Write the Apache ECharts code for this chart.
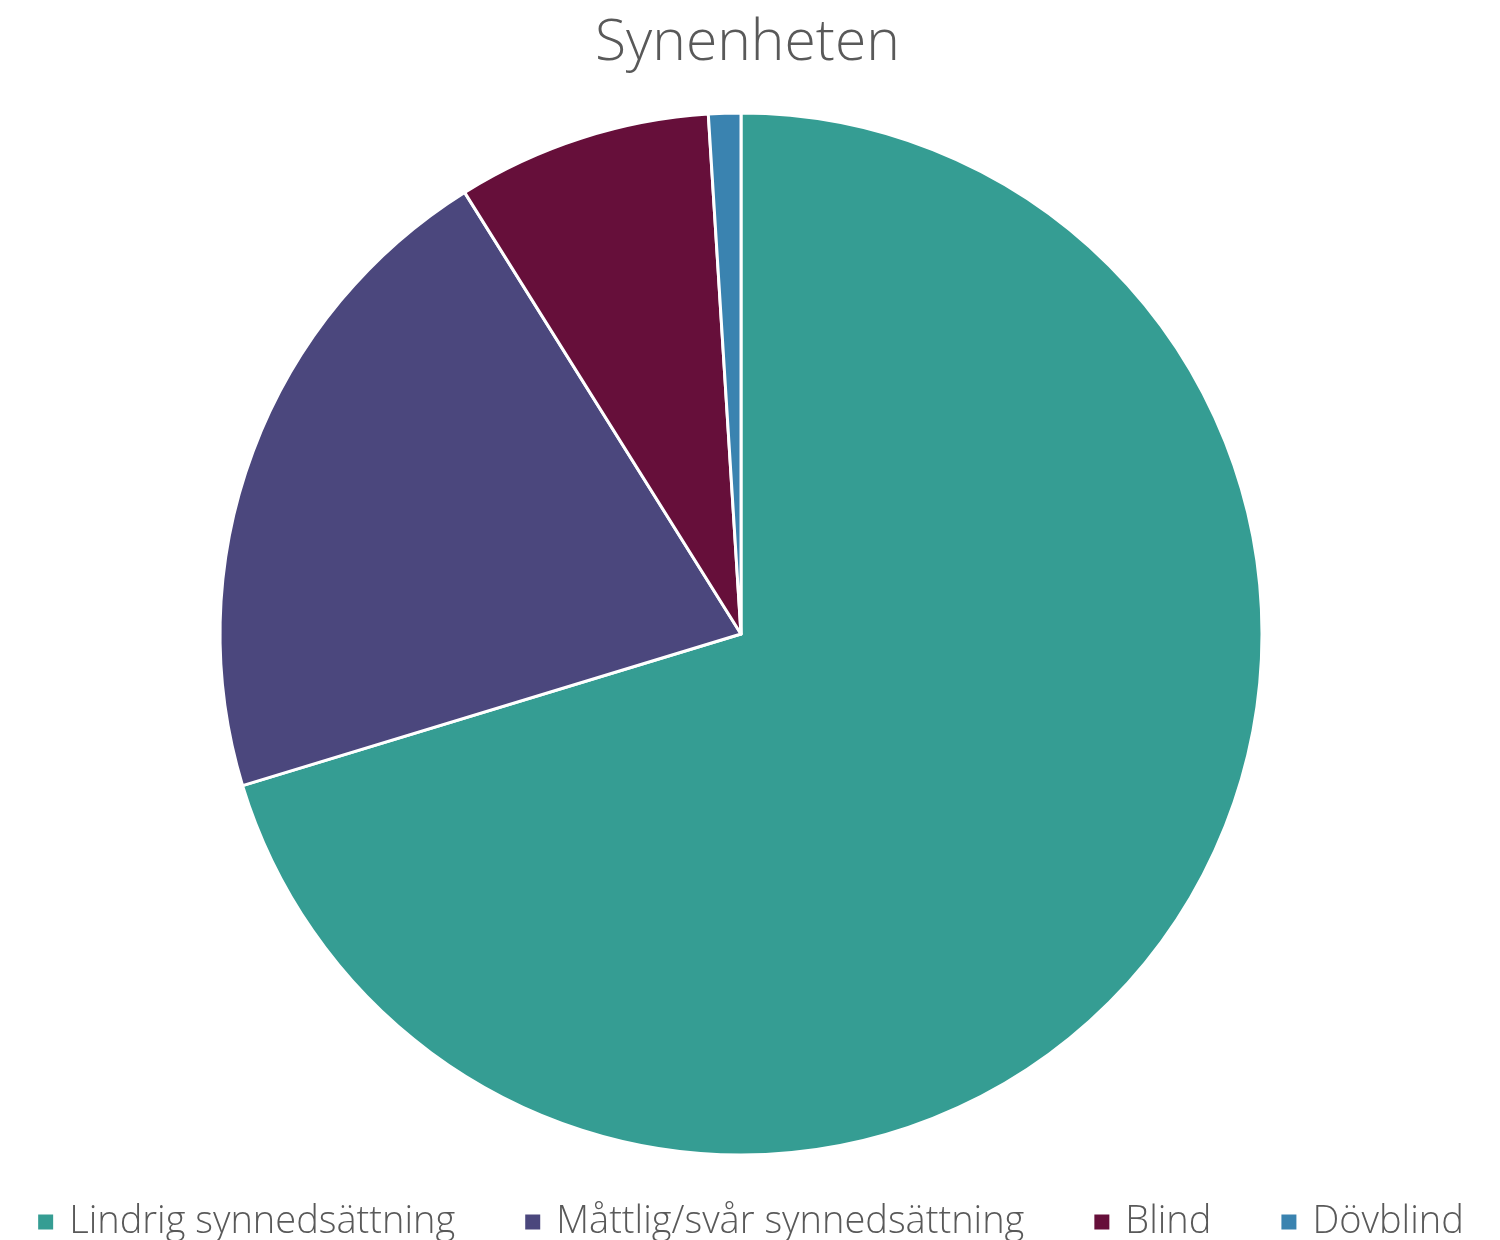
<!DOCTYPE html>
<html><head><meta charset="utf-8">
<script src="https://cdn.jsdelivr.net/npm/echarts@6/dist/echarts.min.js"></script>
<style>html,body{margin:0;padding:0;background:#fff}#c{width:1500px;height:1240px}</style>
</head><body><div id="c"></div>
<script>
const categories = ["Lindrig synnedsättning", "Måttlig/svår synnedsättning", "Blind", "Dövblind"];
const values = [70.3, 20.8, 7.9, 1.0];
const colors = ["#359D93", "#4B477D", "#660F3A", "#3A83B0"];
const chart = echarts.init(document.getElementById('c'));
chart.setOption({
  animation: false,
  color: colors,
  title: {text: "Synenheten", left: 590, top: 10,
    textStyle: {fontFamily: 'Open Sans', fontWeight: 300, fontSize: 57, color: '#595959'}},
  legend: {top: 1198, left: 'center', itemWidth: 17, itemHeight: 17, itemGap: 68, icon: 'rect',
    textStyle: {fontFamily: 'Open Sans', fontWeight: 300, fontSize: 38, color: '#595959', padding: [0, 0, 0, 10]},
    data: categories},
  series: [{type: 'pie', center: [741, 634], radius: 521, startAngle: 90, clockwise: true,
    label: {show: false}, labelLine: {show: false},
    itemStyle: {borderColor: '#fff', borderWidth: 3},
    data: categories.map((n, i) => ({name: n, value: values[i]}))}]
});
</script></body></html>
